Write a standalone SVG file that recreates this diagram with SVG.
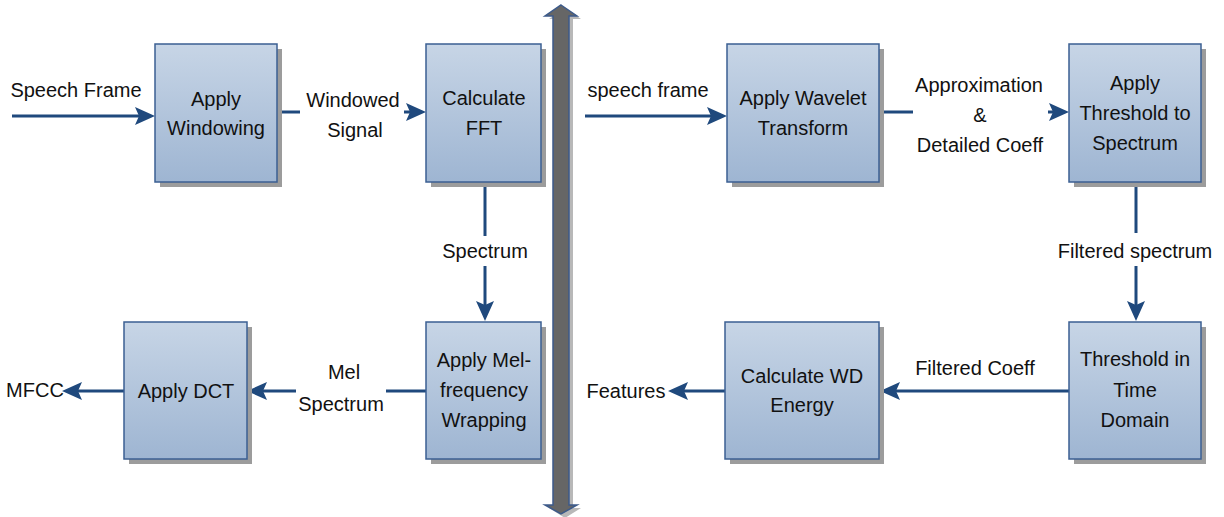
<svg xmlns="http://www.w3.org/2000/svg" width="1224" height="517" viewBox="0 0 1224 517">
<defs>
<linearGradient id="g" x1="0" y1="0" x2="0" y2="1">
<stop offset="0" stop-color="#c7d5e6"/>
<stop offset="1" stop-color="#9eb5d2"/>
</linearGradient>
<marker id="ah" markerUnits="userSpaceOnUse" markerWidth="20" markerHeight="18" refX="14" refY="9" orient="auto">
<path d="M0,0 L20,9 L0,18 L4,9 z" fill="#1f497d"/>
</marker>
</defs>
<style>
.box{fill:url(#g);stroke:#3b5f92;stroke-width:1.5}
.sh{fill:#9c9c9c}
.t{font-family:"Liberation Sans",Arial,sans-serif;font-size:20px;fill:#111;text-anchor:middle}
.c{fill:none;stroke:#1f497d;stroke-width:3}
.a{marker-end:url(#ah)}
</style>
<rect width="1224" height="517" fill="#fff"/>

<g id="divider">
<polygon points="565,8 581,19 573,19 573,508 581,508 565,518 549,508 557,508 557,19 549,19" fill="#b8b8b8"/>
<polygon points="561,5 577,16 569,16 569,505 577,505 561,514 545,505 553,505 553,16 545,16" fill="#666" stroke="#3c5a8a" stroke-width="1.5"/>
</g>

<g id="connectors">
<line class="c a" x1="12" y1="116" x2="149" y2="116"/>
<line class="c" x1="277" y1="112" x2="300" y2="112"/>
<line class="c a" x1="404" y1="112" x2="420" y2="112"/>
<line class="c" x1="485" y1="182" x2="485" y2="236"/>
<line class="c a" x1="485" y1="266" x2="485" y2="315"/>
<line class="c" x1="426" y1="391" x2="386" y2="391"/>
<line class="c a" x1="296" y1="391" x2="253" y2="391"/>
<line class="c a" x1="124" y1="391" x2="68" y2="391"/>
<line class="c a" x1="585" y1="116" x2="721" y2="116"/>
<line class="c" x1="880" y1="112" x2="913" y2="112"/>
<line class="c a" x1="1048" y1="112" x2="1063" y2="112"/>
<line class="c" x1="1136" y1="182" x2="1136" y2="233"/>
<line class="c a" x1="1136" y1="266" x2="1136" y2="315"/>
<line class="c a" x1="1069" y1="391" x2="886" y2="391"/>
<line class="c a" x1="725" y1="391" x2="674" y2="391"/>
</g>

<g id="labels">
<text class="t" x="76" y="97">Speech Frame</text>
<text class="t" x="353" y="107">Windowed</text>
<text class="t" x="355" y="137">Signal</text>
<text class="t" x="485" y="258">Spectrum</text>
<text class="t" x="344" y="379">Mel</text>
<text class="t" x="341" y="411">Spectrum</text>
<text class="t" x="35" y="397">MFCC</text>
<text class="t" x="648" y="97">speech frame</text>
<text class="t" x="979" y="92">Approximation</text>
<text class="t" x="980" y="122">&amp;</text>
<text class="t" x="980" y="152">Detailed Coeff</text>
<text class="t" x="1135" y="258">Filtered spectrum</text>
<text class="t" x="975" y="375">Filtered Coeff</text>
<text class="t" x="626" y="398">Features</text>
</g>

<g id="windowing">
<rect class="sh" x="160" y="49" width="122" height="138"/>
<rect class="box" x="155" y="44" width="122" height="138"/>
<text class="t" x="216" y="106">Apply</text>
<text class="t" x="216" y="135">Windowing</text>
</g>
<g id="fft">
<rect class="sh" x="431" y="49" width="115" height="138"/>
<rect class="box" x="426" y="44" width="115" height="138"/>
<text class="t" x="484" y="105">Calculate</text>
<text class="t" x="484" y="135">FFT</text>
</g>
<g id="mel">
<rect class="sh" x="431" y="327" width="115" height="137"/>
<rect class="box" x="426" y="322" width="115" height="137"/>
<text class="t" x="484" y="367">Apply Mel-</text>
<text class="t" x="484" y="397">frequency</text>
<text class="t" x="484" y="427">Wrapping</text>
</g>
<g id="dct">
<rect class="sh" x="129" y="327" width="123" height="137"/>
<rect class="box" x="124" y="322" width="123" height="137"/>
<text class="t" x="186" y="398">Apply DCT</text>
</g>
<g id="wavelet">
<rect class="sh" x="732" y="49" width="152" height="138"/>
<rect class="box" x="727" y="44" width="152" height="138"/>
<text class="t" x="803" y="105">Apply Wavelet</text>
<text class="t" x="803" y="135">Transform</text>
</g>
<g id="threshold-spectrum">
<rect class="sh" x="1074" y="49" width="132" height="138"/>
<rect class="box" x="1069" y="44" width="132" height="138"/>
<text class="t" x="1135" y="90">Apply</text>
<text class="t" x="1135" y="120">Threshold to</text>
<text class="t" x="1135" y="150">Spectrum</text>
</g>
<g id="threshold-time">
<rect class="sh" x="1074" y="327" width="132" height="137"/>
<rect class="box" x="1069" y="322" width="132" height="137"/>
<text class="t" x="1135" y="366">Threshold in</text>
<text class="t" x="1135" y="397">Time</text>
<text class="t" x="1135" y="427">Domain</text>
</g>
<g id="wd-energy">
<rect class="sh" x="730" y="327" width="154" height="137"/>
<rect class="box" x="725" y="322" width="154" height="137"/>
<text class="t" x="802" y="383">Calculate WD</text>
<text class="t" x="802" y="412">Energy</text>
</g>
</svg>
